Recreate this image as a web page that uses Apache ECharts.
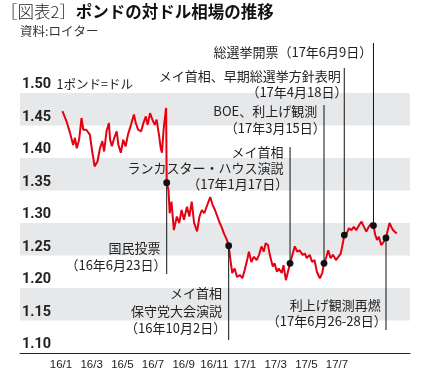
<!DOCTYPE html>
<html><head><meta charset="utf-8">
<script src="https://cdn.jsdelivr.net/npm/echarts@6/dist/echarts.min.js"></script>
<style>html,body{margin:0;padding:0;background:#fff}#c{width:429px;height:383px}</style>
</head><body><div id="c"></div>
<script>
// ---- data ----
const dates = [
'2016-01-01','2016-01-08','2016-01-13','2016-01-19','2016-01-22','2016-01-25','2016-01-29',
'2016-02-02','2016-02-05','2016-02-10','2016-02-16','2016-02-20','2016-02-24','2016-02-29',
'2016-03-04','2016-03-08','2016-03-11','2016-03-15','2016-03-19','2016-03-21','2016-03-24','2016-03-28',
'2016-04-01','2016-04-04','2016-04-08','2016-04-12','2016-04-16','2016-04-20','2016-04-25','2016-04-30',
'2016-05-03','2016-05-07','2016-05-12','2016-05-16','2016-05-20','2016-05-23','2016-05-27','2016-05-31',
'2016-06-04','2016-06-07','2016-06-11','2016-06-14','2016-06-16','2016-06-19','2016-06-23','2016-06-24',
'2016-06-27','2016-06-29','2016-07-02','2016-07-06','2016-07-11','2016-07-15','2016-07-19','2016-07-23','2016-07-28',
'2016-08-01','2016-08-05','2016-08-09','2016-08-14','2016-08-18','2016-08-22','2016-08-26','2016-08-30',
'2016-09-03','2016-09-05','2016-09-09','2016-09-13','2016-09-17','2016-09-21','2016-09-24','2016-09-28',
'2016-10-03','2016-10-06','2016-10-09','2016-10-12','2016-10-16','2016-10-20','2016-10-25','2016-10-29',
'2016-11-02','2016-11-06','2016-11-09','2016-11-13','2016-11-17','2016-11-22','2016-11-26','2016-11-30',
'2016-12-04','2016-12-07','2016-12-11','2016-12-14','2016-12-19','2016-12-22','2016-12-26','2016-12-29',
'2017-01-03','2017-01-06','2017-01-10','2017-01-13','2017-01-17','2017-01-20','2017-01-25','2017-01-29',
'2017-02-02','2017-02-07','2017-02-11','2017-02-14','2017-02-19','2017-02-23','2017-02-27',
'2017-03-03','2017-03-08','2017-03-12','2017-03-15','2017-03-19','2017-03-22','2017-03-26','2017-03-30',
'2017-04-04','2017-04-08','2017-04-12','2017-04-15','2017-04-18','2017-04-22','2017-04-26','2017-04-30',
'2017-05-04','2017-05-08','2017-05-13','2017-05-17','2017-05-21','2017-05-25','2017-05-29',
'2017-06-03','2017-06-06','2017-06-09','2017-06-12','2017-06-15','2017-06-19','2017-06-23','2017-06-27','2017-06-30',
'2017-07-03','2017-07-06','2017-07-09','2017-07-12','2017-07-15'
];
const rates = [
1.472,1.456,1.441,1.420,1.431,1.415,1.428,
1.4615,1.4435,1.4435,1.436,1.410,1.387,1.395,
1.415,1.426,1.410,1.441,1.454,1.428,1.418,1.431,
1.441,1.420,1.408,1.428,1.418,1.436,1.451,1.467,
1.454,1.4435,1.441,1.454,1.464,1.451,1.469,1.459,
1.451,1.459,1.436,1.415,1.408,1.446,1.477,1.362,
1.351,1.315,1.333,1.289,1.310,1.300,1.320,1.305,1.325,
1.310,1.333,1.300,1.287,1.310,1.320,1.315,1.325,
1.335,1.340,1.328,1.320,1.310,1.300,1.294,1.284,
1.274,1.265,1.243,1.223,1.230,1.217,1.220,1.215,
1.228,1.243,1.256,1.240,1.248,1.243,1.251,1.264,
1.256,1.269,1.266,1.251,1.233,1.238,1.225,1.230,
1.223,1.235,1.212,1.210,1.238,1.248,1.264,1.256,
1.258,1.251,1.253,1.246,1.251,1.240,1.243,
1.225,1.215,1.223,1.238,1.248,1.258,1.246,1.251,
1.243,1.248,1.253,1.266,1.2815,1.284,1.292,1.289,
1.294,1.289,1.297,1.302,1.294,1.287,1.294,
1.300,1.296,1.2815,1.274,1.279,1.266,1.271,1.277,1.289,
1.300,1.294,1.289,1.287,1.284
];
const xTickLabels = ['16/1','16/3','16/5','16/7','16/9','16/11','17/1','17/3','17/5','17/7'];
const yMin = 1.10, yMax = 1.50, yStep = 0.05;
const eventDates = ['2016-06-24','2016-10-06','2017-01-17','2017-03-15','2017-04-18','2017-06-06','2017-06-27'];
const eventRates = [1.362,1.265,1.238,1.238,1.2815,1.296,1.277];
const eventTexts = [
  ['国民投票','（16年6月23日）'],
  ['メイ首相','保守党大会演説','（16年10月2日）'],
  ['メイ首相','ランカスター・ハウス演説','（17年1月17日）'],
  ['BOE、利上げ観測','（17年3月15日）'],
  ['メイ首相、早期総選挙方針表明','（17年4月18日）'],
  ['総選挙開票（17年6月9日）'],
  ['利上げ観測再燃','（17年6月26-28日）']
];
const titleMain = 'ポンドの対ドル相場の推移';
const titleTag = '［図表2］';
const sourceText = '資料:ロイター';
const unitText = '1ポンド=ドル';

// ---- layout (pixels) ----
const annLayout = [
  {end: 274, lines: [[-6.7, 248], [-6.7, 265]]},
  {end: 340, lines: [[-7.3, 293], [-7.3, 311.5], [-9, 328.5]]},
  {end: 147, lines: [[-7, 152.5], [-7, 168.5], [-8.3, 184]]},
  {end: 105, lines: [[-7.3, 111.5], [-4.7, 128]]},
  {end: 68,  lines: [[-4, 76.5], [-3.3, 92.5]]},
  {end: 43,  lines: [[-7.7, 52.5]]},
  {end: 330, lines: [[-5.7, 305], [-5.7, 321]]}
];
const CJK = '"Noto Sans CJK JP", sans-serif';
const day0 = Date.UTC(2016, 0, 1);
function dayNum(s) { const p = s.split('-').map(Number); return (Date.UTC(p[0], p[1]-1, p[2]) - day0) / 86400000; }

const lineData = dates.map((d, i) => [dayNum(d), rates[i]]);
const evData = eventDates.map((d, i) => [dayNum(d), eventRates[i]]);

const chart = echarts.init(document.getElementById('c'), null, {renderer: 'canvas'});
chart.setOption({
  animation: false,
  backgroundColor: '#fff',
  grid: [
    {left: 20, right: 19, top: 93, bottom: 30},
    {left: 45.67, right: 76.67, top: 93, bottom: 30}
  ],
  xAxis: [
    {gridIndex: 0, type: 'value', min: -71.2, max: 583.3,
     axisLine: {show: true, onZero: false, lineStyle: {color: '#222', width: 1}},
     axisTick: {show: false}, axisLabel: {show: false}, splitLine: {show: false}},
    {gridIndex: 1, type: 'category', data: xTickLabels, boundaryGap: true,
     axisLine: {show: false}, axisTick: {show: false}, splitLine: {show: false},
     axisLabel: {margin: 6, fontSize: 11.5, color: '#222', fontFamily: '"Liberation Sans", Arial, sans-serif', interval: 0}}
  ],
  yAxis: [
    {gridIndex: 0, type: 'value', min: yMin, max: yMax, interval: yStep,
     axisLine: {show: false}, axisTick: {show: false}, splitLine: {show: false},
     splitArea: {show: true, areaStyle: {color: ['#ffffff', '#e7e8ea']}},
     axisLabel: {inside: true, margin: 2, verticalAlign: 'bottom', padding: [0, 0, 1, 0],
       fontSize: 14.5, fontWeight: 'bold', color: '#222', fontFamily: 'Roboto, sans-serif',
       formatter: v => v.toFixed(2)}},
    {gridIndex: 1, type: 'value', show: false}
  ],
  graphic: [
    {type: 'text', x: 1, y: 12, style: {
      text: '{a|' + titleTag + '}{b|' + titleMain + '}', verticalAlign: 'middle',
      rich: {a: {fontSize: 16.5, fontWeight: 300, fontFamily: CJK, fill: '#222'},
             b: {fontSize: 16.5, fontWeight: 'bold', fontFamily: CJK, fill: '#111'}}}},
    {type: 'text', x: 20, y: 31, style: {text: sourceText, fontSize: 12.5, fontFamily: CJK, fill: '#333', verticalAlign: 'middle'}},
    {type: 'text', x: 56.5, y: 84, style: {text: unitText, fontSize: 12.5, fontFamily: CJK, fill: '#222', verticalAlign: 'middle'}}
  ],
  series: [
    {type: 'line', xAxisIndex: 0, yAxisIndex: 0, data: lineData, showSymbol: false,
     lineStyle: {color: '#e50012', width: 2}, z: 2},
    {type: 'custom', xAxisIndex: 0, yAxisIndex: 0, data: evData, z: 5, clip: false,
     renderItem: function (params, api) {
       const i = params.dataIndex;
       const p = api.coord([api.value(0), api.value(1)]);
       const lay = annLayout[i];
       const children = [
         {type: 'line', shape: {x1: p[0], y1: p[1], x2: p[0], y2: lay.end}, style: {stroke: '#111', lineWidth: 1}},
         {type: 'circle', shape: {cx: p[0], cy: p[1], r: 3.4}, style: {fill: '#111'}}
       ];
       eventTexts[i].forEach((t, k) => {
         const l = lay.lines[k];
         const pad = t.endsWith('）') ? 6.5 : 0.5;
         children.push({type: 'text', style: {text: t, x: p[0] + l[0] + pad, y: l[1], align: 'right', verticalAlign: 'middle',
           fontSize: 13, fontFamily: CJK, fill: '#222'}});
       });
       return {type: 'group', children: children};
     }}
  ]
});
</script></body></html>
